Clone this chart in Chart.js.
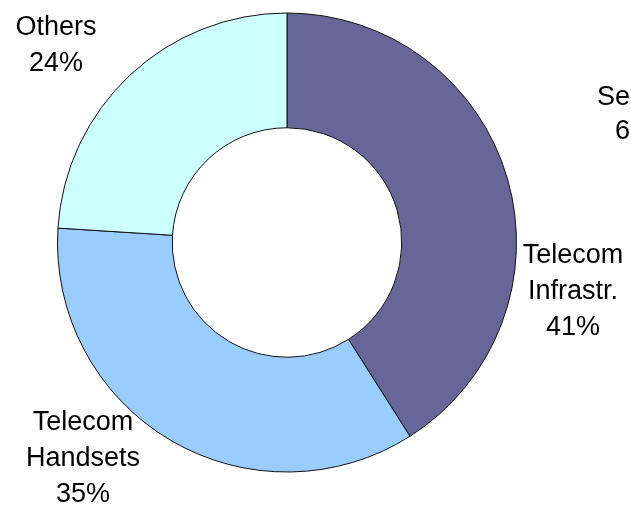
<!DOCTYPE html>
<html>
<head>
<meta charset="utf-8">
<script src="https://cdn.jsdelivr.net/npm/chart.js@4/dist/chart.umd.min.js"></script>
<style>
  html, body { margin: 0; padding: 0; background: #ffffff; }
  #wrap { width: 631px; height: 509px; position: relative; }
</style>
</head>
<body>
<div id="wrap"><canvas id="c" width="631" height="509"></canvas></div>
<script>
// Segment names (one entry per text line) and their shares in percent
const categories = [['Telecom', 'Infrastr.'], ['Telecom', 'Handsets'], ['Others']];
const shares = [41, 35, 24];
const colors = ['#666699', '#99CCFF', '#CCFFFF'];

// Neighbouring caption at the right edge of the sheet
const sideCaption = ['Semis', '6%'];

// Where each segment's label block sits (centre x, first baseline y)
const labelPlacement = [
  { x: 573, y: 263 },
  { x: 83, y: 430 },
  { x: 56, y: 35 }
];

const FONT = '27px "Liberation Sans", Arial, sans-serif';
const LINE = 36;

const labelPlugin = {
  id: 'segmentLabels',
  afterDraw(chart) {
    const ctx = chart.ctx;
    ctx.save();
    ctx.font = FONT;
    ctx.fillStyle = '#000000';
    ctx.textBaseline = 'alphabetic';
    ctx.textAlign = 'center';
    const ds = chart.data.datasets[0];
    chart.data.labels.forEach((lines, i) => {
      const p = labelPlacement[i];
      const text = lines.concat([ds.data[i] + '%']);
      text.forEach((t, k) => ctx.fillText(t, p.x, p.y + k * LINE));
    });
    ctx.textAlign = 'left';
    ctx.fillText(sideCaption[0], 597, 105);
    ctx.fillText(sideCaption[1], 615, 139);
    ctx.restore();
  }
};

new Chart(document.getElementById('c'), {
  type: 'doughnut',
  data: {
    labels: categories,
    datasets: [{
      data: shares,
      backgroundColor: colors,
      borderColor: '#111111',
      borderWidth: 1,
      hoverOffset: 0,
      offset: 0
    }]
  },
  options: {
    responsive: false,
    animation: false,
    cutout: '50%',
    rotation: 0,
    layout: { padding: { left: 57, right: 114, top: 12.5, bottom: 36.5 } },
    plugins: {
      legend: { display: false },
      tooltip: { enabled: false },
      title: { display: false }
    },
    events: []
  },
  plugins: [labelPlugin]
});
</script>
</body>
</html>
